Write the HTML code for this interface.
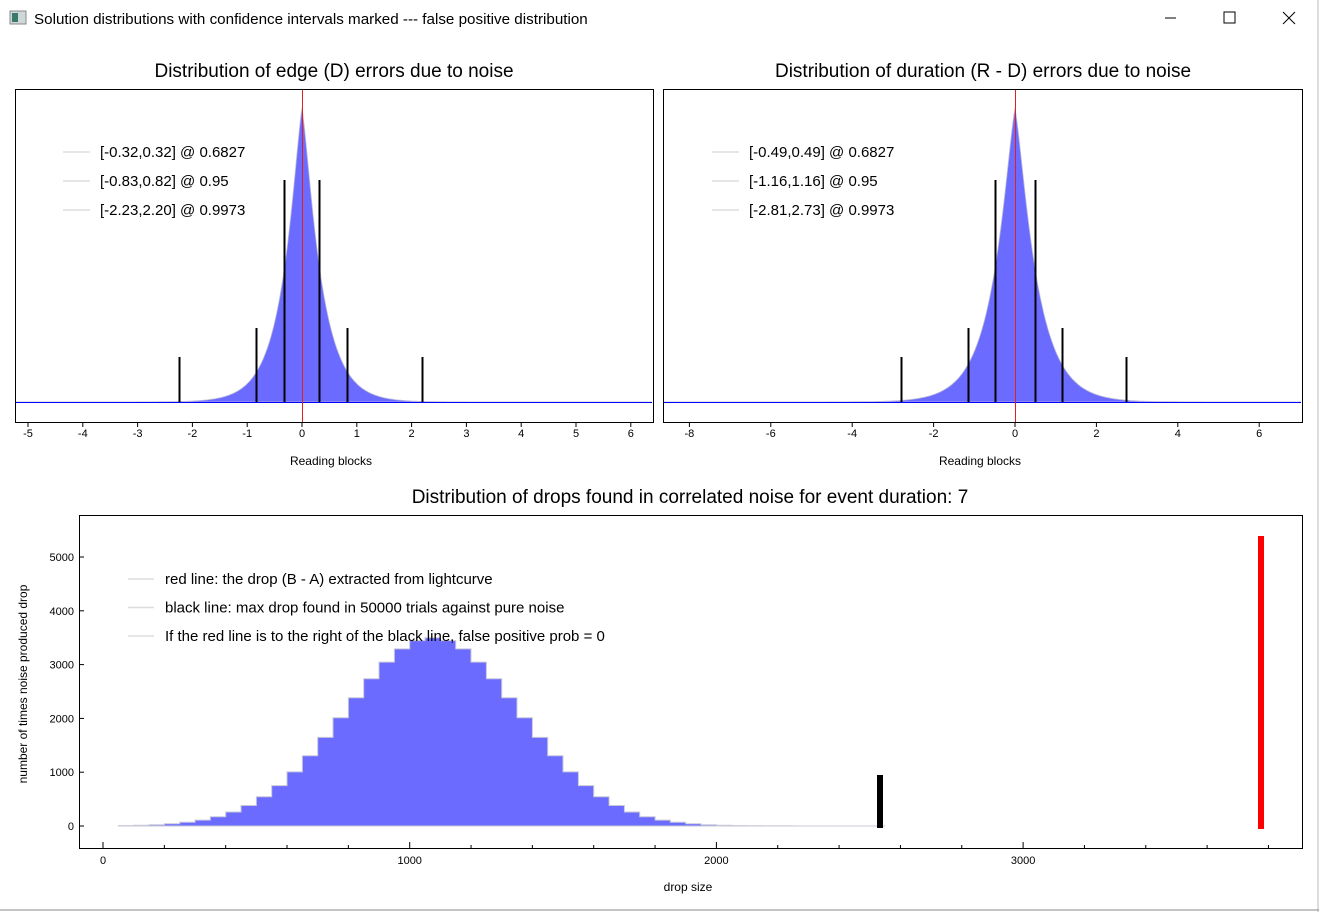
<!DOCTYPE html>
<html><head><meta charset="utf-8"><style>
body{margin:0;background:#fff;width:1319px;height:912px;overflow:hidden;font-family:"Liberation Sans",sans-serif}
svg{position:absolute;left:0;top:0}
</style></head><body>
<svg id="s" width="1319" height="912" xmlns="http://www.w3.org/2000/svg" font-family="Liberation Sans, sans-serif">
<rect x="0" y="0" width="1319" height="912" fill="#fff"/>
<rect x="10" y="11" width="16" height="13" fill="#cfd8d8" stroke="#888"/>
<rect x="12" y="13" width="6" height="9" fill="#3a7a6a"/>
<text x="34" y="24" font-size="15.2" fill="#000">Solution distributions with confidence intervals marked --- false positive distribution</text>
<line x1="1165" y1="18" x2="1176" y2="18" stroke="#000"/>
<rect x="1224" y="12" width="11" height="11" fill="none" stroke="#000"/>
<path d="M1283 12 L1295 24 M1295 12 L1283 24" stroke="#000"/>
<line x1="1318" y1="0" x2="1318" y2="912" stroke="#bbb"/>
<line x1="0" y1="910" x2="1319" y2="910" stroke="#888"/>
<text x="334" y="77" font-size="19" text-anchor="middle">Distribution of edge (D) errors due to noise</text>
<text x="983" y="77" font-size="19" text-anchor="middle">Distribution of duration (R - D) errors due to noise</text>
<text x="690" y="503" font-size="19" text-anchor="middle">Distribution of drops found in correlated noise for event duration: 7</text>
<g id="g"></g>
<rect x="15.5" y="89.5" width="638" height="333" fill="none" stroke="#000"/>
<rect x="663.5" y="89.5" width="639" height="333" fill="none" stroke="#000"/>
<rect x="79.5" y="515.5" width="1223" height="333" fill="none" stroke="#000"/>
<text x="331" y="465" font-size="12" text-anchor="middle">Reading blocks</text>
<text x="980" y="465" font-size="12" text-anchor="middle">Reading blocks</text>
<text x="688" y="891" font-size="12" text-anchor="middle">drop size</text>
<text transform="translate(27,684) rotate(-90)" font-size="12" text-anchor="middle">number of times noise produced drop</text>
</svg>
<script>
var g=document.getElementById('g'),h='';
function L(x1,y1,x2,y2,c,w){h+='<line x1="'+x1+'" y1="'+y1+'" x2="'+x2+'" y2="'+y2+'" stroke="'+c+'" stroke-width="'+(w||1)+'"/>';}
function T(x,y,t,s,a){h+='<text x="'+x+'" y="'+y+'" font-size="'+s+'" text-anchor="'+(a||'start')+'">'+t+'</text>';}
function drawTop(x0,x1,z,ppu,b,ticks,lines,leg,lx){
 var base=402,pts='M'+(x0+1)+' '+base;
 for(var x=x0+1;x<=x1-1;x++){var u=(x-z)/ppu;var f=Math.exp(-Math.abs(u)/b)*(1-0.15*Math.exp(-Math.abs(u)/(b*0.3)))/0.85;
  f=Math.min(f,1);var y=base-294*f;pts+=' L'+x+' '+y.toFixed(1);}
 pts+=' L'+(x1-1)+' '+base+' Z';
 h+='<path d="'+pts+'" fill="#6b6bff" stroke="#b8b8d8" stroke-width="0.8"/>';
 L(x0+1,402.5,x1-1,402.5,'#0000ff',1);
 L(z+0.5,90,z+0.5,422,'#e02020',1);
 ticks.forEach(function(t){var x=z+t*ppu;L(x,422,x,427,'#000');T(x,437,t,11,'middle');});
 lines.forEach(function(l){L(l[0],l[1],l[0],402,'#000',2);});
 leg.forEach(function(t,i){var y=152+i*29;L(lx,y,lx+27,y,'#ddd',1.5);T(lx+37,y+5,t,15);});
}
drawTop(15,653,302,54.8,0.34,[-5,-4,-3,-2,-1,0,1,2,3,4,5,6],[[284.5,180],[319.5,180],[256.5,328],[347.5,328],[179.5,357],[422.5,357]],['[-0.32,0.32] @ 0.6827','[-0.83,0.82] @ 0.95','[-2.23,2.20] @ 0.9973'],63);
drawTop(663,1302,1015,40.7,0.52,[-8,-6,-4,-2,0,2,4,6],[[995.5,180],[1035.5,180],[968.5,328],[1062.5,328],[901.5,357],[1126.5,357]],['[-0.49,0.49] @ 0.6827','[-1.16,1.16] @ 0.95','[-2.81,2.73] @ 0.9973'],712);
var X=function(v){return 103+v*0.3067},Y=function(c){return 826-c*0.0538};
[0,1000,2000,3000].forEach(function(t){L(X(t),848,X(t),842,'#000');T(X(t),864,t,11,'middle');});
for(var t=200;t<3900;t+=200){if(t%1000)L(X(t),848,X(t),845,'#000');}
[0,1000,2000,3000,4000,5000].forEach(function(c){L(79,Y(c),84,Y(c),'#000');T(74,Y(c)+4,c,11,'end');});
var p='M'+X(50)+' '+Y(0);
for(var v=50;v<2500;v+=50){var m=v+25;var c=3500*Math.exp(-Math.pow(m-1075,2)/(2*285*285));p+=' L'+X(v).toFixed(1)+' '+Y(c).toFixed(1)+' L'+X(v+50).toFixed(1)+' '+Y(c).toFixed(1);}
p+=' L'+X(2550)+' '+Y(0)+' Z';
h+='<path d="'+p+'" fill="#6b6bff" stroke="#c8c8d8" stroke-width="1"/>';
h+='<rect x="877" y="775" width="6" height="53" fill="#000"/>';
h+='<rect x="1258" y="536" width="6" height="293" fill="#f00"/>';
['red line: the drop (B - A) extracted from lightcurve','black line: max drop found in 50000 trials against pure noise','If the red line is to the right of the black line, false positive prob = 0'].forEach(function(t,i){var y=579+i*28.5;L(128,y,154,y,'#ddd',1.5);T(165,y+5,t,15);});
g.innerHTML=h;
</script>
</body></html>
